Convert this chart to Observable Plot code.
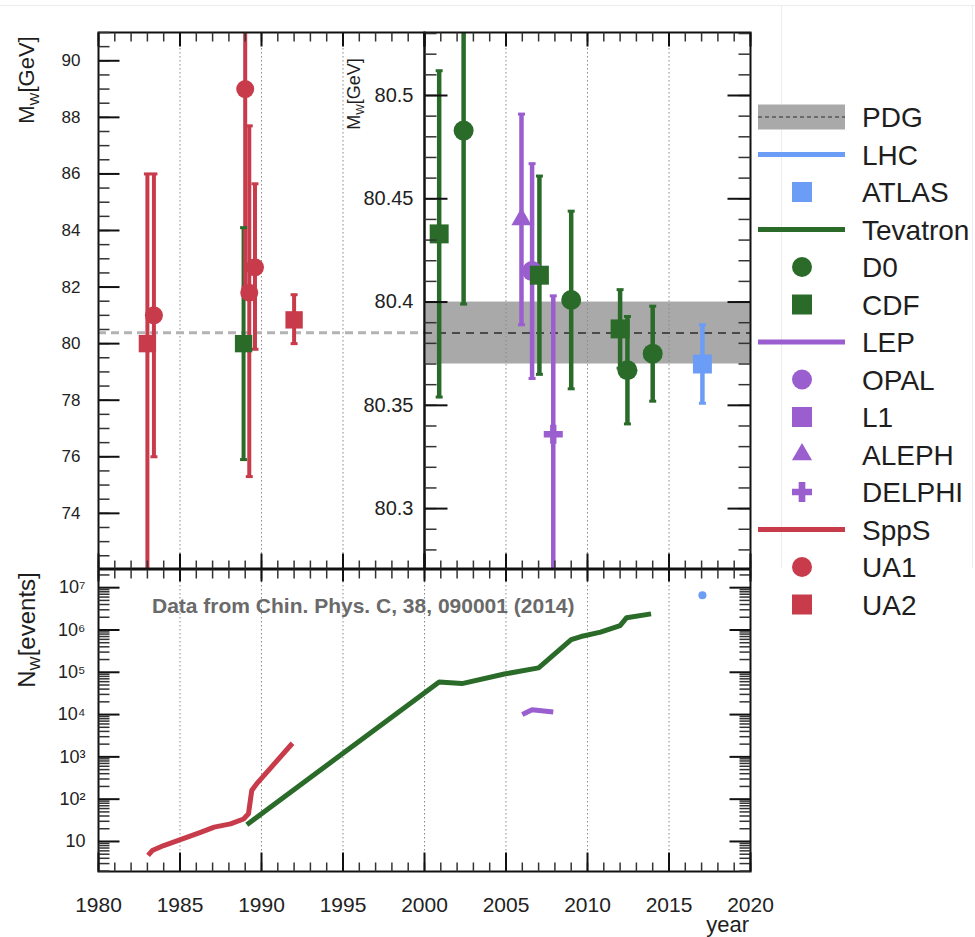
<!DOCTYPE html>
<html><head><meta charset="utf-8">
<script src="https://cdn.jsdelivr.net/npm/d3@7"></script>
<script src="https://cdn.jsdelivr.net/npm/@observablehq/plot@0.6"></script>
<style>
body{margin:0;background:#fff;}
#root{position:relative;width:975px;height:937px;overflow:hidden;font-family:"Liberation Sans",Arial,Helvetica,sans-serif;color:#1e1e1e;}
.rot{position:absolute;transform:translate(-50%,-50%) rotate(-90deg);white-space:nowrap;}
.rot sub{font-size:0.62em;vertical-align:-0.3em;}
.faint{position:absolute;background:#ececec;}
</style></head><body><div id="root"></div>
<script>
// ---------- data ----------
const colliders = ["LHC", "Tevatron", "LEP", "SppS"];
const colliderColors = ["#6b9cf6", "#2a6b2a", "#9a5ecf", "#c73b4b"];
const experiments = ["ATLAS", "D0", "CDF", "OPAL", "L1", "ALEPH", "DELPHI", "UA1", "UA2"];
const experimentCollider = ["LHC", "Tevatron", "Tevatron", "LEP", "LEP", "LEP", "LEP", "SppS", "SppS"];
const experimentSymbols = ["square", "circle", "square", "circle", "square", "triangle", "cross", "circle", "square"];

// W mass measurements 1983-1992 (GeV)
const earlyExp  = ["UA2", "UA1", "CDF", "UA1", "UA1", "UA1", "UA2"];
const earlyYear = [1983.0, 1983.4, 1988.9, 1989.0, 1989.25, 1989.6, 1992.0];
const earlyMass = [80.0, 81.0, 80.0, 89.0, 81.8, 82.7, 80.84];
const earlyLow  = [70.0, 76.0, 75.9, 82.0, 75.3, 79.8, 80.0];
const earlyHigh = [86.0, 86.0, 84.1, 96.0, 87.7, 85.65, 81.73];

// W mass measurements 2000-2017 (GeV)
const recentExp  = ["CDF", "D0", "ALEPH", "OPAL", "CDF", "DELPHI", "D0", "CDF", "D0", "D0", "ATLAS"];
const recentYear = [2000.9, 2002.4, 2005.95, 2006.6, 2007.05, 2007.9, 2009.0, 2012.0, 2012.45, 2014.0, 2017.05];
const recentMass = [80.433, 80.483, 80.440, 80.415, 80.413, 80.336, 80.401, 80.387, 80.367, 80.375, 80.370];
const recentLow  = [80.354, 80.399, 80.389, 80.363, 80.365, 80.269, 80.358, 80.368, 80.341, 80.352, 80.351];
const recentHigh = [80.512, 80.567, 80.491, 80.467, 80.461, 80.403, 80.444, 80.406, 80.393, 80.398, 80.389];

const pdgMass = 80.385;
const pdgErr = 0.015;

// number of W events
const sppsYear = [1983.04, 1983.3, 1984.0, 1984.9, 1986.3, 1987.1, 1988.1, 1988.9, 1989.2, 1989.4, 1989.7, 1991.9];
const sppsN    = [4.7, 6.1, 8.0, 10.6, 16.6, 21.8, 26, 34, 45, 160, 230, 2100];
const tevYear  = [1989.1, 2000.9, 2002.3, 2004.9, 2007.0, 2009.0, 2009.6, 2010.8, 2012.0, 2012.4, 2013.9];
const tevN     = [25, 59000, 54000, 91000, 127000, 590000, 700000, 890000, 1270000, 1950000, 2400000];
const lepYear  = [2006.0, 2006.6, 2007.9];
const lepN     = [10000, 13000, 11500];
const lhcYear  = [2017.05];
const lhcN     = [6600000];

// tick labels
const yearTicks = [1980, 1985, 1990, 1995, 2000, 2005, 2010, 2015, 2020];
const massTicksLow = [74, 76, 78, 80, 82, 84, 86, 88, 90];
const massTicksHigh = [80.3, 80.35, 80.4, 80.45, 80.5];
const logTickValues = [1e1, 1e2, 1e3, 1e4, 1e5, 1e6, 1e7];
const logTickLabels = ["10", "10²", "10³", "10⁴", "10⁵", "10⁶", "10⁷"];
const legendOrder = ["PDG", "LHC", "ATLAS", "Tevatron", "D0", "CDF", "LEP", "OPAL", "L1", "ALEPH", "DELPHI", "SppS", "UA1", "UA2"];

// ---------- helpers ----------
const root = document.getElementById("root");
const FONT = '"Liberation Sans", Arial, Helvetica, sans-serif';
const colliderOf = e => experimentCollider[experiments.indexOf(e)];
const symbolOf = e => experimentSymbols[experiments.indexOf(e)];
const colorOf = c => colliderColors[colliders.indexOf(c)];
const colorScale = {domain: colliders, range: colliderColors};
const style = {background: "transparent", fontFamily: FONT, overflow: "visible"};

function place(el, left, top) {
  el.style.position = "absolute"; el.style.left = left + "px"; el.style.top = top + "px";
  root.appendChild(el);
}
function table(exp, year, mass, low, high) {
  return exp.map((e, i) => ({exp: e, collider: colliderOf(e), year: year[i], mass: mass[i], low: low[i], high: high[i]}));
}
const capSymbol = {draw(ctx) { ctx.rect(-3.5, -1.5, 7, 3); }};

function measurementMarks(data, yDom, sizes, barWidth) {
  const marks = [
    Plot.ruleX(data, {x: "year", y1: "low", y2: "high", stroke: "collider", strokeWidth: barWidth}),
    Plot.dot(data.filter(d => d.high <= yDom[1]), {x: "year", y: "high", fill: "collider", symbol: capSymbol, r: 1, stroke: "none"}),
    Plot.dot(data.filter(d => d.low >= yDom[0]), {x: "year", y: "low", fill: "collider", symbol: capSymbol, r: 1, stroke: "none"})
  ];
  for (const s of Object.keys(sizes)) {
    marks.push(Plot.dot(data.filter(d => symbolOf(d.exp) === s), {x: "year", y: "mass", fill: "collider", symbol: s, r: sizes[s], stroke: "none"}));
  }
  return marks;
}
// inward tick marks: a line-shaped symbol anchored on the frame edge
function tickShape(anchor, len) {
  const [dx, dy] = {left: [len, 0], right: [-len, 0], top: [0, len], bottom: [0, -len]}[anchor];
  return {draw(ctx) { ctx.moveTo(0, 0); ctx.lineTo(dx, dy); }};
}
function ticks(axis, anchor, values, len, w, color) {
  const opts = {frameAnchor: anchor, symbol: tickShape(anchor, len), fill: "none", stroke: color, strokeWidth: w, r: 1};
  if (axis === "y") opts.y = d => d; else opts.x = d => d;
  return Plot.dot(values, opts);
}
function ticksPair(axis, anchor, major, minor, majLen, minLen) {
  return [ticks(axis, anchor, minor, minLen, 1.5, "#333"), ticks(axis, anchor, major, majLen, 2, "#111")];
}

const early = table(earlyExp, earlyYear, earlyMass, earlyLow, earlyHigh);
const recent = table(recentExp, recentYear, recentMass, recentLow, recentHigh);

// ---------- top-left panel ----------
const xA = [1980, 2000];
const yA = [72.05, 91];
const yearsA = d3.range(xA[0], xA[1] + 1);
const majA = yearTicks.filter(t => t >= xA[0] && t <= xA[1]);
const minorMassA = d3.range(145, 183).map(k => k / 2).filter(v => v >= yA[0] && v <= yA[1]);
const plotA = Plot.plot({
  width: 430, height: 600, marginLeft: 98, marginRight: 6, marginTop: 32, marginBottom: 32,
  x: {domain: xA}, y: {domain: yA, clamp: true}, color: colorScale, style,
  marks: [
    Plot.ruleX(majA.filter(t => t > xA[0] && t < xA[1]), {stroke: "#8a8a8a", strokeDasharray: "1.5,2.5", strokeWidth: 1}),
    Plot.ruleY([pdgMass], {stroke: "#b3b3b3", strokeWidth: 3, strokeDasharray: "8,5"}),
    ...measurementMarks(early, yA, {circle: 9, square: 9.8}, 4),
    Plot.frame({stroke: "#111", strokeWidth: 2}),
    ...ticksPair("y", "left", massTicksLow, minorMassA, 21, 11),
    ...ticksPair("x", "top", majA, yearsA, 14, 9),
    ...ticksPair("x", "bottom", majA, yearsA, 15, 8),
    Plot.axisX({ticks: [], label: null, tickSize: 0}),
    Plot.axisY(massTicksLow, {anchor: "left", tickSize: 0, tickPadding: 18, fontSize: 17, fill: "#222", label: null})
  ]
});
place(plotA, 0, 0);

// ---------- top-right panel ----------
const xB = [2000, 2020];
const yB = [80.271, 80.5305];
const yearsB = d3.range(xB[0], xB[1] + 1);
const majB = yearTicks.filter(t => t >= xB[0] && t <= xB[1]);
const minorMassB = d3.range(27, 54).map(k => 80 + k / 100).filter(v => v >= yB[0] && v <= yB[1]);
const pdg = [{mass: pdgMass, err: pdgErr}];
const plotB = Plot.plot({
  width: 430, height: 600, marginLeft: 94, marginRight: 10, marginTop: 32, marginBottom: 32,
  x: {domain: xB}, y: {domain: yB, clamp: true}, color: colorScale, style,
  marks: [
    Plot.rect(pdg, {y1: d => d.mass - d.err, y2: d => d.mass + d.err, fill: "#a9a9a9"}),
    Plot.ruleX(majB.filter(t => t > xB[0] && t < xB[1]), {stroke: "#8a8a8a", strokeDasharray: "1.5,2.5", strokeWidth: 1}),
    Plot.ruleY(pdg, {y: "mass", stroke: "#4a4a4a", strokeWidth: 2, strokeDasharray: "8,6"}),
    ...measurementMarks(recent, yB, {circle: 10, square: 10.7, triangle: 7.5, cross: 8}, 4.5),
    Plot.frame({stroke: "#111", strokeWidth: 2}),
    ...ticksPair("y", "left", massTicksHigh, minorMassB, 23, 12),
    ...ticksPair("y", "right", massTicksHigh, minorMassB, 23, 12),
    ...ticksPair("x", "top", majB, yearsB, 14, 9),
    ...ticksPair("x", "bottom", majB, yearsB, 15, 8),
    Plot.axisX({ticks: [], label: null, tickSize: 0}),
    Plot.axisY(massTicksHigh, {anchor: "left", tickSize: 0, tickPadding: 11, fontSize: 20, fill: "#222", label: null, tickFormat: d => String(d)})
  ]
});
place(plotB, 330, 0);

// ---------- bottom panel ----------
const xC = [1980, 2020];
const yC = [1.95, 2.69e7];
const yearsC = d3.range(xC[0], xC[1] + 1);
const minorLog = [];
for (let k = 0; k <= 7; k++) for (let m = 2; m <= 9; m++) { const v = m * Math.pow(10, k); if (v >= yC[0] && v <= yC[1]) minorLog.push(v); }
const events = [
  ...sppsYear.map((y, i) => ({collider: "SppS", year: y, n: sppsN[i]})),
  ...tevYear.map((y, i) => ({collider: "Tevatron", year: y, n: tevN[i]})),
  ...lepYear.map((y, i) => ({collider: "LEP", year: y, n: lepN[i]}))
];
const lhcEvents = lhcYear.map((y, i) => ({collider: "LHC", year: y, n: lhcN[i]}));
const plotC = Plot.plot({
  width: 760, height: 397, marginLeft: 98, marginRight: 10, marginTop: 29, marginBottom: 66,
  x: {domain: xC}, y: {type: "log", domain: yC}, color: colorScale, style,
  marks: [
    Plot.ruleX(yearTicks.filter(t => t > xC[0] && t < xC[1]), {stroke: "#8a8a8a", strokeDasharray: "1.5,2.5", strokeWidth: 1}),
    Plot.line(events, {x: "year", y: "n", z: "collider", stroke: "collider", strokeWidth: 5, strokeLinejoin: "round", strokeLinecap: "butt"}),
    Plot.dot(lhcEvents, {x: "year", y: "n", fill: "collider", r: 4, stroke: "none"}),
    Plot.frame({stroke: "#111", strokeWidth: 2}),
    ...ticksPair("y", "left", logTickValues, minorLog, 21, 11),
    ...ticksPair("y", "right", logTickValues, minorLog, 21, 11),
    ...ticksPair("x", "top", yearTicks, yearsC, 12, 9),
    ...ticksPair("x", "bottom", yearTicks, yearsC, 19, 9),
    Plot.axisY(logTickValues, {anchor: "left", tickSize: 0, tickPadding: 13, fontSize: 18, fill: "#222", label: null, tickFormat: d => logTickLabels[logTickValues.indexOf(d)]}),
    Plot.axisX(yearTicks, {anchor: "bottom", tickSize: 0, tickPadding: 26, fontSize: 21, fill: "#222", label: null, tickFormat: d => String(d)})
  ]
});
place(plotC, 0, 540);

// ---------- text overlays ----------
function html(tag, inner, css) { const el = document.createElement(tag); el.innerHTML = inner; el.style.cssText = css; root.appendChild(el); return el; }
html("div", "M<sub>W</sub>[GeV]", "left:28px;top:80px;font-size:22px;").className = "rot";
html("div", "M<sub>W</sub>[GeV]", "left:355px;top:94px;font-size:18px;").className = "rot";
html("div", "N<sub>W</sub>[events]", "left:28px;top:630px;font-size:24px;").className = "rot";
html("div", "year", "position:absolute;right:226px;top:914px;font-size:22px;line-height:22px;");
html("div", "Data from Chin. Phys. C, 38, 090001 (2014)", "position:absolute;left:152px;top:594px;font-size:21px;line-height:24px;font-weight:bold;color:#6a6a6a;white-space:nowrap;");

// faint pad outlines
html("div", "", "left:0;top:5px;width:975px;height:1px;").className = "faint";
html("div", "", "left:781px;top:5px;width:1px;height:563px;").className = "faint";
html("div", "", "left:972px;top:5px;width:1px;height:563px;").className = "faint";

// ---------- legend ----------
const legendSvg = d3.create("svg").attr("width", 235).attr("height", 545).style("overflow", "visible");
const symType = {circle: d3.symbolCircle, square: d3.symbolSquare, triangle: d3.symbolTriangle, cross: d3.symbolCross};
const symSize = {circle: 314, square: 400, triangle: 175, cross: 222};
legendOrder.forEach((label, i) => {
  const cy = 37 + 37.5 * i;
  const g = legendSvg.append("g");
  if (label === "PDG") {
    g.append("rect").attr("x", 18).attr("y", cy - 12.5).attr("width", 87).attr("height", 25).attr("fill", "#a9a9a9");
    g.append("line").attr("x1", 18).attr("x2", 105).attr("y1", cy).attr("y2", cy).attr("stroke", "#555").attr("stroke-width", 1.5).attr("stroke-dasharray", "4,3");
  } else if (colliders.includes(label)) {
    g.append("line").attr("x1", 18).attr("x2", 105).attr("y1", cy).attr("y2", cy).attr("stroke", colorOf(label)).attr("stroke-width", 5);
  } else {
    const s = symbolOf(label);
    g.append("path").attr("d", d3.symbol(symType[s], symSize[s])()).attr("transform", `translate(62,${cy})`).attr("fill", colorOf(colliderOf(label)));
  }
  g.append("text").attr("x", 122).attr("y", cy).attr("dy", "0.36em").attr("font-size", 28).attr("font-family", FONT).attr("fill", "#1e1e1e").text(label);
});
place(legendSvg.node(), 740, 80);
</script></body></html>
